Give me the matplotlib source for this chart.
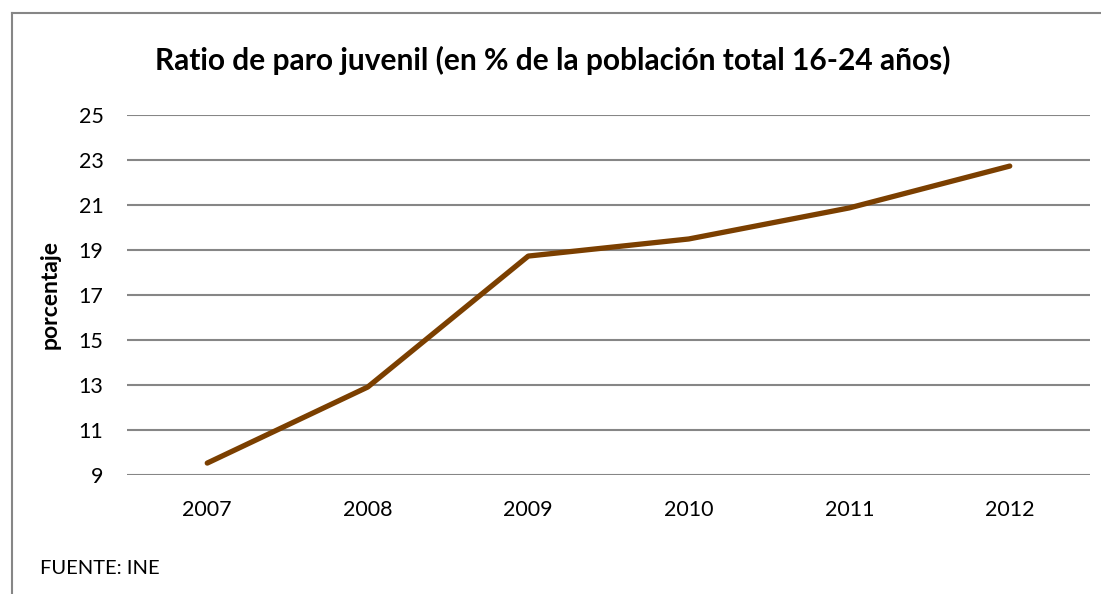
import matplotlib
matplotlib.use("Agg")
import matplotlib.pyplot as plt
from matplotlib.lines import Line2D

years = ["2007", "2008", "2009", "2010", "2011", "2012"]
ratio = [9.53, 12.91, 18.73, 19.49, 20.87, 22.73]
yticks = [9, 11, 13, 15, 17, 19, 21, 23, 25]

plt.rcParams['font.family'] = ['Lato', 'DejaVu Sans']

W, H = 1101, 594
fig = plt.figure(figsize=(W / 100, H / 100), dpi=100)
ax = fig.add_axes([127 / W, 1 - 475 / H, (1090 - 127) / W, (475 - 115) / H])

x = list(range(len(years)))
ax.plot(x, ratio, color="#7B3F00", lw=3.8, solid_capstyle="round", solid_joinstyle="round", zorder=3)

ax.set_xlim(-0.5, len(years) - 0.5)
ax.set_ylim(9, 25)
ax.set_yticks(yticks)
ax.set_yticklabels([str(v) for v in yticks])
ax.set_xticks(x)
ax.set_xticklabels(years)
ax.tick_params(axis="both", length=0, labelsize=15.5, colors="black")
ax.tick_params(axis="y", pad=17)
ax.tick_params(axis="x", pad=18)
ax.grid(axis="y", color="#868686", lw=1.5)
ax.set_axisbelow(True)
for s in ax.spines.values():
    s.set_visible(False)

ax.set_ylabel("porcentaje", fontsize=16.5, fontweight="bold", labelpad=13)

fig.text(553 / W, 1 - 60 / H, "Ratio de paro juvenil (en % de la población total 16-24 años)",
         ha="center", va="center", fontsize=21.5, fontweight="bold")
fig.text(40 / W, 1 - 569 / H, "FUENTE: INE", ha="left", va="center", fontsize=14.5)

# chart border (top and left visible)
fig.add_artist(Line2D([12 / W, 12 / W], [0, 1 - 13 / H], transform=fig.transFigure, color="#868686", lw=1.5))
fig.add_artist(Line2D([12 / W, 1], [1 - 13 / H, 1 - 13 / H], transform=fig.transFigure, color="#868686", lw=1.5))

fig.savefig("out.png", dpi=100)
